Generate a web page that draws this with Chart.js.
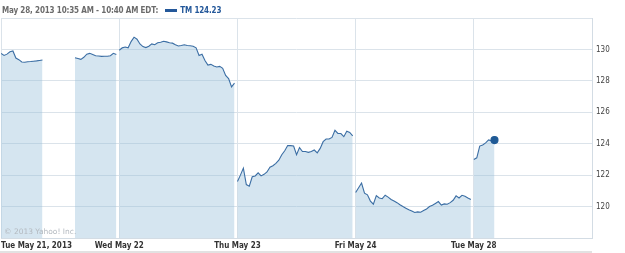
<!DOCTYPE html>
<html>
<head>
<meta charset="utf-8">
<script src="https://cdn.jsdelivr.net/npm/chart.js@4"></script>
<style>
    body { margin: 0; background: #fff; overflow: hidden; }
    #wrap { position: relative; width: 625px; height: 253px; overflow: hidden; }
    #lineChart { position: absolute; left: -4px; top: 0; }
    #header {
        position: absolute; left: 2px; top: 6px;
        font: bold 8px "DejaVu Sans Condensed", "DejaVu Sans", sans-serif;
        letter-spacing: -0.15px;
        color: #6b6b6b; white-space: nowrap;
    }
    #header .swatch {
        display: inline-block; width: 12px; height: 3px; background: #24589a;
        vertical-align: middle; margin: 0 3px 1px 7px;
    }
    #header .sym { color: #24589a; }
    #copy {
        position: absolute; left: 4px; top: 227px;
        font: 7.5px "DejaVu Sans", sans-serif; color: #b3b9bf;
    }
    #footline {
        position: absolute; left: 0; top: 251px; width: 592px; height: 2px; background: #e2e2e2;
    }
</style>
</head>
<body>
<div id="wrap">
    <canvas id="lineChart" width="629" height="253"></canvas>
    <div id="header">May 28, 2013 10:35 AM - 10:40 AM EDT:<span class="swatch"></span><span class="sym">TM 124.23</span></div>
    <div id="copy">© 2013 Yahoo! Inc.</div>
    <div id="footline"></div>
</div>
<script>
const dayLabels = ["Tue May 21, 2013", "Wed May 22", "Thu May 23", "Fri May 24", "Tue May 28"];
const yTicks = [120, 122, 124, 126, 128, 130];

// one value every ~10 minutes of the trading day, null = no trades shown
const tue21 = [
    129.75, 129.62, 129.7, 129.85, 129.9, 129.45, 129.35, 129.2, 129.18, 129.22,
    129.23, 129.25, 129.27, 129.3, 129.33, null, null, null, null, null,
    null, null, null, null, null, 129.47, 129.42, 129.37, 129.5, 129.7,
    129.75, 129.68, 129.6, 129.58, 129.56, 129.57, 129.57, 129.6, 129.75, 129.68
];
const wed22 = [
    129.95, 130.1, 130.15, 130.1, 130.5, 130.78, 130.65, 130.35, 130.18, 130.12,
    130.2, 130.35, 130.3, 130.42, 130.46, 130.52, 130.48, 130.43, 130.4, 130.3,
    130.22, 130.25, 130.3, 130.25, 130.23, 130.2, 130.1, 129.62, 129.7, 129.3,
    129.0, 129.05, 128.95, 128.88, 128.92, 128.8, 128.35, 128.15, 127.62, 127.85
];
const thu23 = [
    121.6, 122.0, 122.45, 121.4, 121.3, 121.9, 121.95, 122.15, 121.95, 122.05,
    122.2, 122.5, 122.6, 122.75, 122.95, 123.3, 123.55, 123.88, 123.88, 123.85,
    123.3, 123.75, 123.5, 123.5, 123.45, 123.5, 123.6, 123.42, 123.7, 124.13,
    124.3, 124.3, 124.4, 124.85, 124.65, 124.65, 124.45, 124.8, 124.72, 124.5
];
const fri24 = [
    120.9, 121.2, 121.5, 120.85, 120.75, 120.35, 120.15, 120.7, 120.55, 120.5,
    120.72, 120.6, 120.45, 120.35, 120.25, 120.12, 120.0, 119.9, 119.8, 119.72,
    119.62, 119.66, 119.64, 119.75, 119.85, 120.0, 120.08, 120.2, 120.32, 120.1,
    120.17, 120.15, 120.25, 120.4, 120.68, 120.55, 120.72, 120.66, 120.55, 120.45
];
const tue28 = [123.0, 123.1, 123.85, 123.92, 124.05, 124.24, 124.18, 124.23];

const days = [tue21, wed22, thu23, fri24, tue28];
const STEPS_PER_DAY = 40;

const lineChartCanvas = document.getElementById("lineChart");

function buildPoints() {
    const points = [];
    days.forEach((values, d) => {
        values.forEach((v, i) => points.push({ x: d + i / STEPS_PER_DAY, y: v }));
        // break the line between sessions
        if (d < days.length - 1) points.push({ x: d + 39.5 / STEPS_PER_DAY, y: null });
    });
    return points;
}

function drawLineChart() {
    const points = buildPoints();
    const lastIndex = points.length - 1;
    const font = { family: "'DejaVu Sans Condensed', 'DejaVu Sans', sans-serif", size: 8, weight: "bold" };

    new Chart(lineChartCanvas.getContext("2d"), {
        type: "line",
        data: {
            datasets: [{
                data: points,
                borderColor: "#3b6ea4",
                borderWidth: 1.1,
                backgroundColor: "rgba(150, 190, 217, 0.4)",
                fill: "start",
                tension: 0,
                spanGaps: false,
                pointRadius: (ctx) => (ctx.dataIndex === lastIndex ? 3.5 : 0),
                pointBackgroundColor: "#1f5a96",
                pointBorderColor: "#1f5a96",
            }],
        },
        options: {
            responsive: false,
            animation: false,
            layout: { padding: { top: 18, left: 0, right: 0, bottom: 0 } },
            plugins: { legend: { display: false }, tooltip: { enabled: false } },
            scales: {
                x: {
                    type: "linear",
                    min: 0,
                    max: 5,
                    afterBuildTicks: (scale) => {
                        scale.ticks = [0, 1, 2, 3, 4, 5].map((v) => ({ value: v }));
                    },
                    afterFit: (scale) => {
                        scale.height = 15;
                        scale.paddingLeft = 0;
                        scale.paddingRight = 0;
                    },
                    grid: { color: "#dbe3ea", drawTicks: false },
                    border: { color: "#d3dce4" },
                    ticks: {
                        align: "inner",
                        autoSkip: false,
                        maxRotation: 0,
                        padding: 3,
                        color: "#333",
                        font: font,
                        callback: (v) => dayLabels[v] || "",
                    },
                },
                y: {
                    position: "right",
                    min: 118,
                    max: 132,
                    afterBuildTicks: (scale) => {
                        scale.ticks = [118, ...yTicks, 132].map((v) => ({ value: v }));
                    },
                    afterFit: (scale) => { scale.width = 33; },
                    grid: { color: "#dbe3ea", drawTicks: false },
                    border: { color: "#d3dce4" },
                    ticks: {
                        padding: 4,
                        color: "#444",
                        font: { family: font.family, size: 8 },
                        callback: (v) => (yTicks.includes(v) ? String(v) : ""),
                    },
                },
            },
        },
    });
}

drawLineChart();
</script>
</body>
</html>
